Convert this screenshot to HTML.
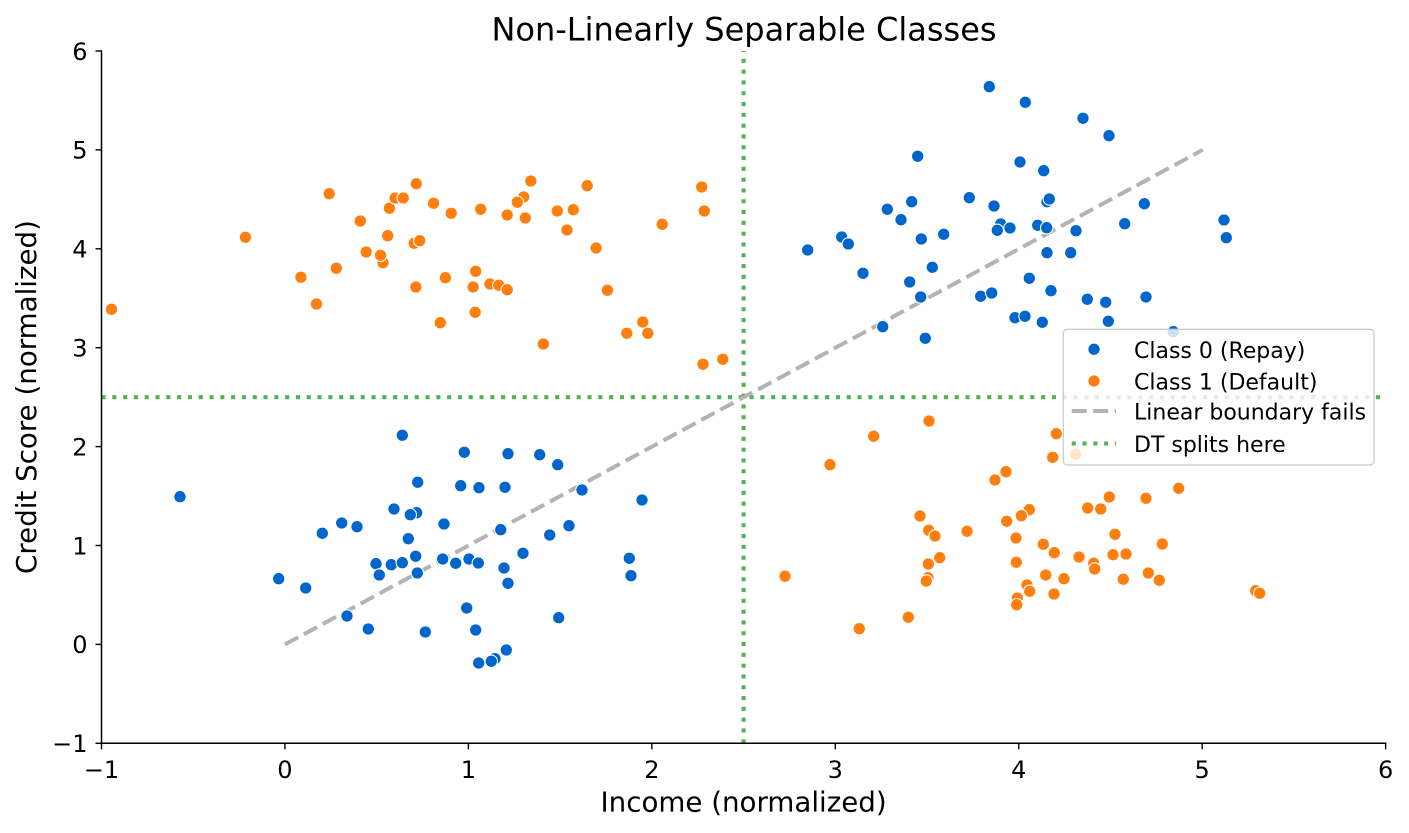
<!DOCTYPE html>
<html>
<head>
<meta charset="utf-8">
<style>
html,body{margin:0;padding:0;background:#fff;}
svg{display:block;}
text{font-family:"DejaVu Sans","Liberation Sans",sans-serif;fill:#000;}
</style>
</head>
<body>
<svg width="1409" height="833" viewBox="0 0 1409 833" xmlns="http://www.w3.org/2000/svg">
<rect x="0" y="0" width="1409" height="833" fill="#fff"/>
<line x1="743.6" y1="743.3" x2="743.6" y2="51" stroke="#55b155" stroke-width="4.1" stroke-dasharray="4.1 6.7"/>
<line x1="101.5" y1="397.2" x2="1385.6" y2="397.2" stroke="#55b155" stroke-width="4.1" stroke-dasharray="4.1 6.7"/>
<line x1="284.95" y1="644.4" x2="1202.7" y2="149.9" stroke="#b3b3b3" stroke-width="4" stroke-dasharray="15 6.5"/>
<g fill="#0066cc" stroke="#fff" stroke-width="1.1">
<circle cx="989.3" cy="86.7" r="6.2"/><circle cx="1025.3" cy="102.3" r="6.2"/><circle cx="1083" cy="118.3" r="6.2"/><circle cx="1109" cy="135.7" r="6.2"/>
<circle cx="917.7" cy="156.3" r="6.2"/><circle cx="1020" cy="162" r="6.2"/><circle cx="1043.7" cy="170.7" r="6.2"/><circle cx="969.3" cy="197.7" r="6.2"/>
<circle cx="994" cy="206" r="6.2"/><circle cx="1047" cy="201.7" r="6.2"/><circle cx="1049.3" cy="199" r="6.2"/><circle cx="1144.3" cy="203.7" r="6.2"/>
<circle cx="911.7" cy="201.7" r="6.2"/><circle cx="887.3" cy="209.3" r="6.2"/><circle cx="901" cy="219.7" r="6.2"/><circle cx="1000.7" cy="224" r="6.2"/>
<circle cx="997.3" cy="230.3" r="6.2"/><circle cx="1010" cy="228" r="6.2"/><circle cx="1037.7" cy="225.3" r="6.2"/><circle cx="1046.7" cy="227.7" r="6.2"/>
<circle cx="1076" cy="230.7" r="6.2"/><circle cx="1124.7" cy="223.7" r="6.2"/><circle cx="1224" cy="220" r="6.2"/><circle cx="1226.3" cy="237.7" r="6.2"/>
<circle cx="807.7" cy="250" r="6.2"/><circle cx="841.7" cy="237" r="6.2"/><circle cx="848.3" cy="244" r="6.2"/><circle cx="921.3" cy="239" r="6.2"/>
<circle cx="943.7" cy="234.3" r="6.2"/><circle cx="1047" cy="252.7" r="6.2"/><circle cx="1070.7" cy="252.7" r="6.2"/><circle cx="863" cy="273.3" r="6.2"/>
<circle cx="932.3" cy="267.3" r="6.2"/><circle cx="909.7" cy="282" r="6.2"/><circle cx="920.7" cy="297" r="6.2"/><circle cx="980.7" cy="296.3" r="6.2"/>
<circle cx="991.7" cy="293" r="6.2"/><circle cx="1029.3" cy="278.3" r="6.2"/><circle cx="1051" cy="290.7" r="6.2"/><circle cx="1087.3" cy="299.3" r="6.2"/>
<circle cx="1105.7" cy="302.3" r="6.2"/><circle cx="1146" cy="297" r="6.2"/><circle cx="1015" cy="317.7" r="6.2"/><circle cx="1025" cy="316.3" r="6.2"/>
<circle cx="1042.3" cy="322.3" r="6.2"/><circle cx="1108.3" cy="321.3" r="6.2"/><circle cx="882.7" cy="326.7" r="6.2"/><circle cx="925.3" cy="338.3" r="6.2"/>
<circle cx="1173.3" cy="331.7" r="6.2"/>
<circle cx="180" cy="496.7" r="6.2"/><circle cx="402.3" cy="435.3" r="6.2"/><circle cx="464.3" cy="452.3" r="6.2"/><circle cx="508" cy="453.7" r="6.2"/>
<circle cx="539.7" cy="454.7" r="6.2"/><circle cx="557.7" cy="464.7" r="6.2"/><circle cx="417.7" cy="482.3" r="6.2"/><circle cx="460.7" cy="485.7" r="6.2"/>
<circle cx="479" cy="487.7" r="6.2"/><circle cx="505" cy="487.3" r="6.2"/><circle cx="582" cy="490" r="6.2"/><circle cx="642" cy="500" r="6.2"/>
<circle cx="394" cy="509" r="6.2"/><circle cx="416.7" cy="512.7" r="6.2"/><circle cx="410.3" cy="514.7" r="6.2"/><circle cx="322.3" cy="533.3" r="6.2"/>
<circle cx="341.7" cy="523" r="6.2"/><circle cx="357" cy="526.7" r="6.2"/><circle cx="444" cy="524" r="6.2"/><circle cx="408.3" cy="538.7" r="6.2"/>
<circle cx="500.7" cy="529.7" r="6.2"/><circle cx="549.7" cy="535" r="6.2"/><circle cx="569" cy="525.7" r="6.2"/><circle cx="523" cy="553.3" r="6.2"/>
<circle cx="629.3" cy="558.3" r="6.2"/><circle cx="631" cy="575.7" r="6.2"/><circle cx="278.7" cy="578.7" r="6.2"/><circle cx="305.7" cy="588" r="6.2"/>
<circle cx="376" cy="563.7" r="6.2"/><circle cx="391.3" cy="564.7" r="6.2"/><circle cx="402.3" cy="562.7" r="6.2"/><circle cx="415.7" cy="556.3" r="6.2"/>
<circle cx="379.3" cy="575" r="6.2"/><circle cx="417.3" cy="573" r="6.2"/><circle cx="442.7" cy="559" r="6.2"/><circle cx="455.7" cy="563.3" r="6.2"/>
<circle cx="469" cy="559" r="6.2"/><circle cx="478.3" cy="563" r="6.2"/><circle cx="504" cy="568" r="6.2"/><circle cx="508" cy="583.3" r="6.2"/>
<circle cx="347" cy="616" r="6.2"/><circle cx="368.3" cy="629" r="6.2"/><circle cx="425.3" cy="632" r="6.2"/><circle cx="466.7" cy="608" r="6.2"/>
<circle cx="475.7" cy="630" r="6.2"/><circle cx="558.7" cy="617.7" r="6.2"/><circle cx="506.3" cy="650" r="6.2"/><circle cx="495" cy="658.7" r="6.2"/>
<circle cx="491.3" cy="661.3" r="6.2"/><circle cx="478.7" cy="663" r="6.2"/>
</g>
<g fill="#ff7f0e" stroke="#fff" stroke-width="1.1">
<circle cx="111.5" cy="309.3" r="6.2"/><circle cx="245.4" cy="237.3" r="6.2"/><circle cx="329.2" cy="193.7" r="6.2"/><circle cx="300.9" cy="277.3" r="6.2"/>
<circle cx="316.5" cy="304" r="6.2"/><circle cx="336.3" cy="268.3" r="6.2"/><circle cx="360.3" cy="221" r="6.2"/><circle cx="366.2" cy="252" r="6.2"/>
<circle cx="383" cy="262.7" r="6.2"/><circle cx="380.5" cy="255.3" r="6.2"/><circle cx="387.7" cy="235.7" r="6.2"/><circle cx="389.4" cy="208.3" r="6.2"/>
<circle cx="395.2" cy="198" r="6.2"/><circle cx="403.2" cy="198" r="6.2"/><circle cx="416.3" cy="183.7" r="6.2"/><circle cx="414.2" cy="243.3" r="6.2"/>
<circle cx="419.7" cy="240.7" r="6.2"/><circle cx="415.9" cy="287" r="6.2"/><circle cx="433.6" cy="203.3" r="6.2"/><circle cx="451.2" cy="213.3" r="6.2"/>
<circle cx="445.4" cy="277.7" r="6.2"/><circle cx="440.3" cy="322.7" r="6.2"/><circle cx="475.7" cy="271.3" r="6.2"/><circle cx="473.1" cy="287" r="6.2"/>
<circle cx="475.2" cy="312.3" r="6.2"/><circle cx="480.7" cy="209.3" r="6.2"/><circle cx="490" cy="284" r="6.2"/><circle cx="498.8" cy="285.3" r="6.2"/>
<circle cx="507.2" cy="289.7" r="6.2"/><circle cx="507.2" cy="215" r="6.2"/><circle cx="523.7" cy="197" r="6.2"/><circle cx="517.3" cy="202.3" r="6.2"/>
<circle cx="530.8" cy="181" r="6.2"/><circle cx="525.3" cy="218" r="6.2"/><circle cx="543.4" cy="344" r="6.2"/><circle cx="557.3" cy="211" r="6.2"/>
<circle cx="573.3" cy="209.7" r="6.2"/><circle cx="567" cy="230" r="6.2"/><circle cx="587.2" cy="185.7" r="6.2"/><circle cx="596.1" cy="248" r="6.2"/>
<circle cx="607.4" cy="290.3" r="6.2"/><circle cx="626.8" cy="333.3" r="6.2"/><circle cx="642.8" cy="322" r="6.2"/><circle cx="647.8" cy="333.3" r="6.2"/>
<circle cx="662.2" cy="224.3" r="6.2"/><circle cx="701.7" cy="187" r="6.2"/><circle cx="704.3" cy="211" r="6.2"/><circle cx="703" cy="364.3" r="6.2"/>
<circle cx="722.8" cy="359.3" r="6.2"/>
<circle cx="929" cy="421" r="6.2"/><circle cx="873.7" cy="436.3" r="6.2"/><circle cx="1056.3" cy="433.7" r="6.2"/><circle cx="830" cy="464.7" r="6.2"/>
<circle cx="1052.7" cy="457.3" r="6.2"/><circle cx="1075.7" cy="454.3" r="6.2"/><circle cx="1006" cy="471.7" r="6.2"/><circle cx="995" cy="480" r="6.2"/>
<circle cx="1109.3" cy="497" r="6.2"/><circle cx="1146" cy="498.3" r="6.2"/><circle cx="1178.7" cy="488.3" r="6.2"/><circle cx="1087.7" cy="508" r="6.2"/>
<circle cx="1100.7" cy="509" r="6.2"/><circle cx="920" cy="516" r="6.2"/><circle cx="1029.3" cy="509.7" r="6.2"/><circle cx="1021.3" cy="515.7" r="6.2"/>
<circle cx="1006.7" cy="521.3" r="6.2"/><circle cx="928.7" cy="530.3" r="6.2"/><circle cx="935" cy="536" r="6.2"/><circle cx="967" cy="531.3" r="6.2"/>
<circle cx="1016" cy="538" r="6.2"/><circle cx="1115" cy="534.3" r="6.2"/><circle cx="1162.3" cy="544" r="6.2"/><circle cx="1043.3" cy="544.3" r="6.2"/>
<circle cx="1054.3" cy="552.7" r="6.2"/><circle cx="1079" cy="557" r="6.2"/><circle cx="1113" cy="554.7" r="6.2"/><circle cx="1126" cy="554" r="6.2"/>
<circle cx="939.7" cy="557.7" r="6.2"/><circle cx="928.3" cy="564" r="6.2"/><circle cx="1016.3" cy="562.3" r="6.2"/><circle cx="1093.7" cy="563.3" r="6.2"/>
<circle cx="1094.7" cy="569" r="6.2"/><circle cx="785" cy="576.3" r="6.2"/><circle cx="928" cy="577.7" r="6.2"/><circle cx="926.3" cy="581" r="6.2"/>
<circle cx="1045.7" cy="575" r="6.2"/><circle cx="1064" cy="578.7" r="6.2"/><circle cx="1123.3" cy="579.3" r="6.2"/><circle cx="1148.3" cy="573" r="6.2"/>
<circle cx="1159.3" cy="580.3" r="6.2"/><circle cx="1027" cy="585" r="6.2"/><circle cx="1029.7" cy="591.3" r="6.2"/><circle cx="1054" cy="594" r="6.2"/>
<circle cx="1017.3" cy="598" r="6.2"/><circle cx="1016.7" cy="604.7" r="6.2"/><circle cx="1255.7" cy="590.7" r="6.2"/><circle cx="1259.7" cy="593.3" r="6.2"/>
<circle cx="908.3" cy="617.3" r="6.2"/><circle cx="859.3" cy="628.7" r="6.2"/>
</g>
<line x1="101.5" y1="50.3" x2="101.5" y2="744" stroke="#000" stroke-width="1.5"/>
<line x1="100.8" y1="743.3" x2="1386.3" y2="743.3" stroke="#000" stroke-width="1.5"/>
<g stroke="#000" stroke-width="1.4">
<line x1="95.5" y1="743.3" x2="101.5" y2="743.3"/><line x1="95.5" y1="644.4" x2="101.5" y2="644.4"/>
<line x1="95.5" y1="545.5" x2="101.5" y2="545.5"/><line x1="95.5" y1="446.6" x2="101.5" y2="446.6"/>
<line x1="95.5" y1="347.7" x2="101.5" y2="347.7"/><line x1="95.5" y1="248.8" x2="101.5" y2="248.8"/>
<line x1="95.5" y1="149.9" x2="101.5" y2="149.9"/><line x1="95.5" y1="51" x2="101.5" y2="51"/>
<line x1="101.5" y1="743.3" x2="101.5" y2="749.3"/><line x1="284.95" y1="743.3" x2="284.95" y2="749.3"/>
<line x1="468.4" y1="743.3" x2="468.4" y2="749.3"/><line x1="651.85" y1="743.3" x2="651.85" y2="749.3"/>
<line x1="835.3" y1="743.3" x2="835.3" y2="749.3"/><line x1="1018.75" y1="743.3" x2="1018.75" y2="749.3"/>
<line x1="1202.2" y1="743.3" x2="1202.2" y2="749.3"/><line x1="1385.65" y1="743.3" x2="1385.65" y2="749.3"/>
</g>
<g font-size="24" text-anchor="end">
<text x="87.5" y="752.1">−1</text><text x="87.5" y="653.2">0</text><text x="87.5" y="554.3">1</text><text x="87.5" y="455.4">2</text>
<text x="87.5" y="356.5">3</text><text x="87.5" y="257.6">4</text><text x="87.5" y="158.7">5</text><text x="87.5" y="59.8">6</text>
</g>
<g font-size="24" text-anchor="middle">
<text x="101.5" y="778">−1</text><text x="284.95" y="778">0</text><text x="468.4" y="778">1</text><text x="651.85" y="778">2</text>
<text x="835.3" y="778">3</text><text x="1018.75" y="778">4</text><text x="1202.2" y="778">5</text><text x="1385.65" y="778">6</text>
</g>
<text x="743.6" y="811.7" font-size="27.7" text-anchor="middle">Income (normalized)</text>
<text transform="translate(36,397) rotate(-90)" x="0" y="0" font-size="27.7" text-anchor="middle">Credit Score (normalized)</text>
<text x="744" y="40.6" font-size="32" text-anchor="middle">Non-Linearly Separable Classes</text>
<rect x="1063.3" y="329.3" width="310.7" height="135.7" rx="4" ry="4" fill="#fff" fill-opacity="0.8" stroke="#cccccc" stroke-width="1.3"/>
<circle cx="1094" cy="349.3" r="6.2" fill="#0066cc" stroke="#fff" stroke-width="1.1"/>
<circle cx="1094" cy="381" r="6.2" fill="#ff7f0e" stroke="#fff" stroke-width="1.1"/>
<line x1="1071.7" y1="411" x2="1116" y2="411" stroke="#b3b3b3" stroke-width="4" stroke-dasharray="15 6.5"/>
<line x1="1071.7" y1="443.5" x2="1116" y2="443.5" stroke="#55b155" stroke-width="4.1" stroke-dasharray="4.1 6.7"/>
<g font-size="22">
<text x="1134" y="357.8">Class 0 (Repay)</text>
<text x="1134" y="389.5">Class 1 (Default)</text>
<text x="1134" y="419.5">Linear boundary fails</text>
<text x="1134" y="452">DT splits here</text>
</g>
</svg>
</body>
</html>
